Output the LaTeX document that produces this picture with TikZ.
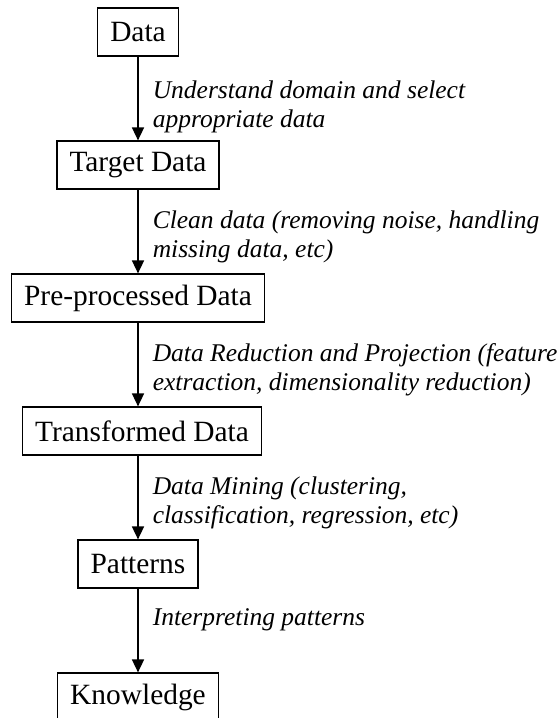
\documentclass[tikz,border=0pt]{standalone}
\usepackage{fontspec}
\setmainfont{Liberation Serif}
\usetikzlibrary{arrows.meta}

\begin{document}
\begin{tikzpicture}[x=0.5pt, y=-0.5pt]
 \tikzstyle{bnode}=[rectangle, draw, line width=0.6pt, inner xsep=6.3pt, minimum height=24pt, font=\fontsize{14.7}{17}\selectfont]
 \tikzstyle{lbl}=[anchor=base west, inner sep=0pt, xshift=7pt, align=left, font=\fontsize{12.75}{14.5}\selectfont\itshape]
 \tikzstyle{lblone}=[lbl, yshift=-18.5pt]
 \tikzstyle{lbltwo}=[lbl, yshift=-34pt]
 \tikzstyle{line} = [draw, line width=0.8pt, -{Triangle[width=6pt, length=6.5pt]}]

 \clip (0, 0) rectangle (560, 718);

 \draw (138, 32) node[bnode] (data) {Data};
 \draw (138, 165) node[bnode] (target) {Target Data};
 \draw (138, 298) node[bnode] (prep) {Pre-processed Data};
 \draw (142, 431) node[bnode] (trans) {Transformed Data};
 \draw (138, 564) node[bnode] (patt) {Patterns};
 \draw (138, 697) node[bnode] (know) {Knowledge};

 \path [line] (data.south -| target) -- node[lbltwo, at start, yshift=-1.5pt]{Understand domain and select\\appropriate data} (target);
 \path [line] (target) -- node[lbltwo, at start]{Clean data (removing noise, handling\\missing data, etc)} (prep);
 \path [line] (prep) -- node[lbltwo, at start]{Data Reduction and Projection (feature\\extraction, dimensionality reduction)} (prep |- trans.north);
 \path [line] (trans.south -| patt) -- node[lbltwo, at start]{Data Mining (clustering,\\classification, regression, etc)} (patt);
 \path [line] (patt) -- node[lblone, at start]{Interpreting patterns} (know);
\end{tikzpicture}
\end{document}
